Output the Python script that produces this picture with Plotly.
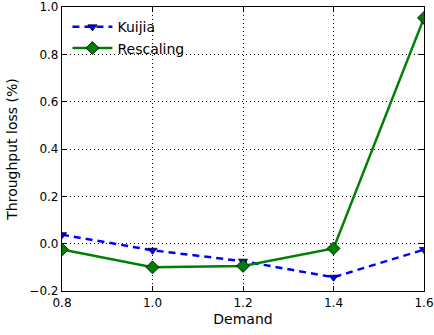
import plotly.graph_objects as go

demand = [0.8, 1.0, 1.2, 1.4, 1.6]
kuijia = [0.038, -0.028, -0.074, -0.142, -0.025]
rescaling = [-0.025, -0.1, -0.094, -0.02, 0.954]
x_ticks = [0.8, 1.0, 1.2, 1.4, 1.6]
y_ticks = [-0.2, 0.0, 0.2, 0.4, 0.6, 0.8, 1.0]

font = dict(family="DejaVu Sans", size=14, color="black")
tfont = dict(family="DejaVu Sans", size=12, color="black")

fig = go.Figure()
fig.add_trace(go.Scatter(
    x=demand, y=kuijia, name="Kuijia", mode="lines+markers",
    line=dict(color="#0000ff", width=2.5, dash="7px,5px"),
    marker=dict(symbol="triangle-down", size=8, color="#0000ff",
                line=dict(color="black", width=0.8)),
))
fig.add_trace(go.Scatter(
    x=demand, y=rescaling, name="Rescaling", mode="lines+markers",
    line=dict(color="#008000", width=2.5),
    marker=dict(symbol="diamond", size=10, color="#008000",
                line=dict(color="black", width=0.8)),
))

axis_common = dict(
    showgrid=True, gridcolor="black", griddash="1px,3px", gridwidth=1,
    zeroline=False, showline=True, linecolor="black", linewidth=1.2,
    mirror="allticks", ticks="inside", ticklen=5, tickcolor="black",
    tickfont=tfont, tickformat=".1f", ticklabeloverflow="allow",
)
fig.update_xaxes(range=[0.8 - 1e-9, 1.6 + 1e-9], tickvals=x_ticks,
                 title=dict(text="Demand", font=font, standoff=5), **axis_common)
fig.update_yaxes(range=[-0.2 - 1e-9, 1.0 + 1e-9], tickvals=y_ticks,
                 title=dict(text="Throughput loss (%)", font=font, standoff=8), **axis_common)

fig.update_layout(
    width=434, height=335,
    margin=dict(l=62, r=10, t=7, b=44, autoexpand=False),
    plot_bgcolor="white", paper_bgcolor="white",
    font=font,
    legend=dict(x=0.015, y=0.985, xanchor="left", yanchor="top",
                bgcolor="rgba(0,0,0,0)", font=font, itemwidth=40,
                tracegroupgap=0),
    showlegend=True,
)
fig.write_html("out.html", config={"displayModeBar": False},
               post_script="document.body.style.margin='0';document.body.style.overflow='hidden';")
